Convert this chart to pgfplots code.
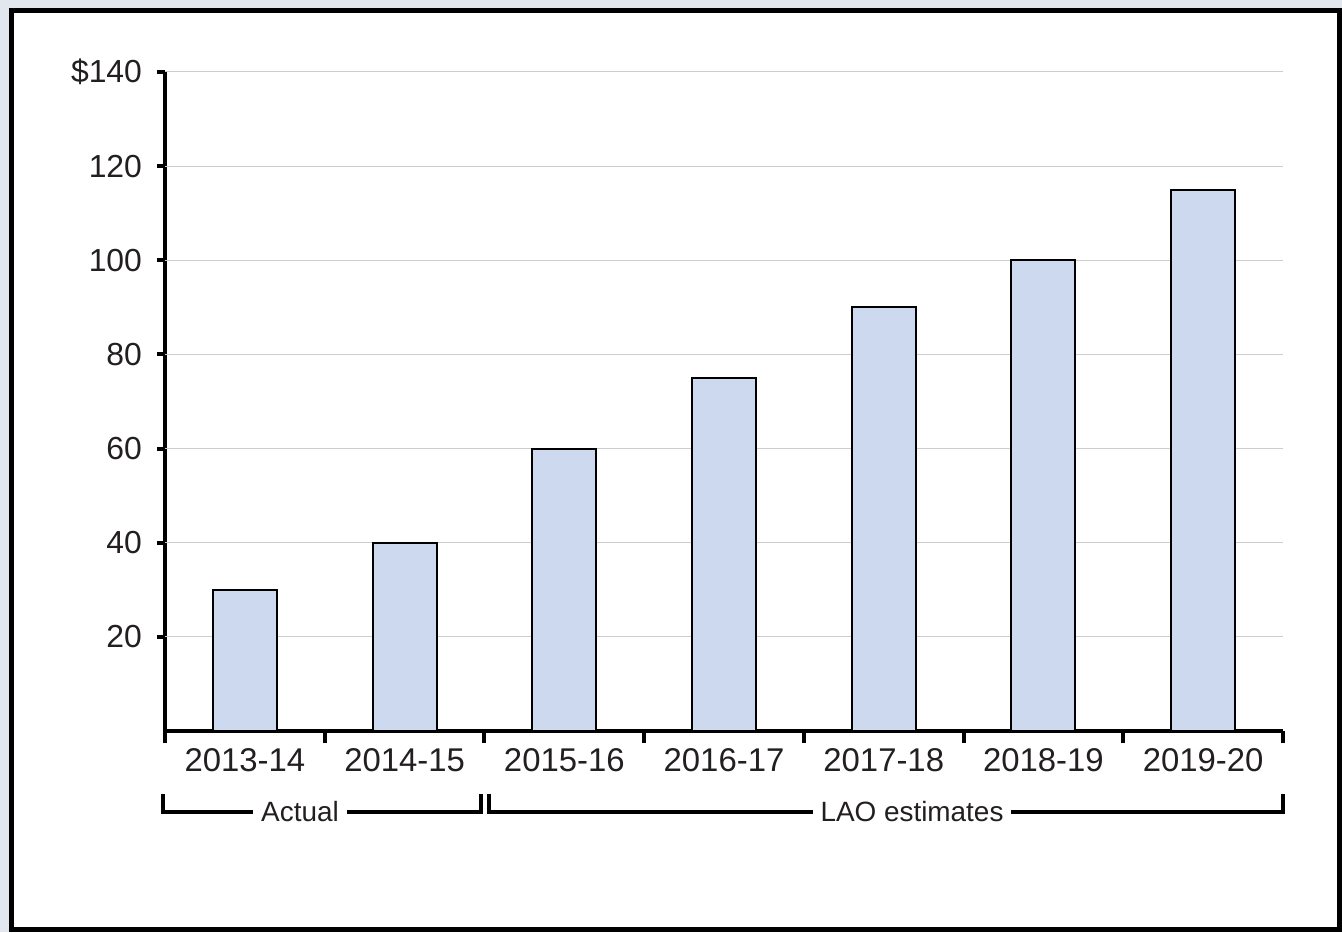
\documentclass[border=0pt]{standalone}
\usepackage{pgfplots}
\pgfplotsset{compat=1.18}
\usepackage{fontspec}
\setmainfont{Liberation Sans}
\definecolor{bgc}{HTML}{E2E6EE}
\definecolor{barc}{HTML}{CCD9EE}
\definecolor{gridc}{HTML}{CDCDCD}
\definecolor{txt}{HTML}{231F20}
\begin{document}
\begin{tikzpicture}[x=0.5bp,y=0.5bp]
\useasboundingbox (0,0) rectangle (1342,932);
\fill[bgc] (0,0) rectangle (1342,932);
\draw[line width=2.5bp, fill=white] (11.5,2.5) rectangle (1339.5,921.5);
\coordinate (A) at (165,201);
\begin{axis}[
  at={(A)}, anchor=south west,
  scale only axis, width=559bp, height=329.5bp,
  xmin=-0.5, xmax=6.5, ymin=0, ymax=140,
  axis x line*=bottom, axis y line*=left,
  axis line style={line width=2bp, black},
  ytick=\empty,
  xtick={-0.5,0.5,1.5,2.5,3.5,4.5,5.5,6.5},
  xticklabels={},
  tick style={line width=2bp, black},
  tick align=outside, major tick length=6bp,
  grid style={gridc, line width=0.5bp},
  extra x ticks={0,...,6},
  extra x tick labels={2013-14,2014-15,2015-16,2016-17,2017-18,2018-19,2019-20},
  extra x tick style={tick style={draw=none}, grid=none,
     xticklabel style={font=\fontsize{16.5}{19}\selectfont, text=txt, yshift=1bp}},
  extra y ticks={20,40,60,80,100,120,140},
  extra y tick labels={20,40,60,80,100,120,\$140},
  extra y tick style={major tick length=4bp, grid=major,
     yticklabel style={font=\fontsize{16}{19}\selectfont, text=txt, xshift=-4bp}},
  /pgf/number format/assume math mode=true,
  clip=false,
]
\addplot[ybar, bar width=32bp, fill=barc, draw=black, line width=1bp] coordinates {
  (0,30) (1,40) (2,60) (3,75) (4,90) (5,100) (6,115)
};
\end{axis}
\draw[line width=2bp, black] (163,138) -- (163,120) -- (481,120) -- (481,138);
\node[fill=white, inner xsep=4bp, inner ysep=1bp, text=txt, font=\fontsize{14}{16}\selectfont] at (300,120) {Actual};
\draw[line width=2bp, black] (489,138) -- (489,120) -- (1283,120) -- (1283,138);
\node[fill=white, inner xsep=4bp, inner ysep=1bp, text=txt, font=\fontsize{14}{16}\selectfont] at (912,120) {LAO estimates};
\end{tikzpicture}
\end{document}
